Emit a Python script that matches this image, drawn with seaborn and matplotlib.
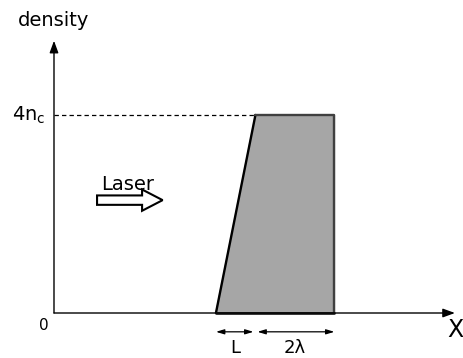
import matplotlib
matplotlib.use("Agg")
import matplotlib.pyplot as plt
import seaborn as sns
import pandas as pd
from matplotlib.patches import FancyArrow

sns.set_theme(style="white")
plt.rcParams['font.family'] = ['DejaVu Sans']
plt.rcParams['text.color'] = 'black'

# data (units: lambda = 1, density in n_c)
ramp_start = 4.1
ramp_len = 1.0          # L
plateau_len = 2.0       # 2 lambda
peak_density = 4.0      # 4 n_c
profile_x = [ramp_start, ramp_start + ramp_len, ramp_start + ramp_len + plateau_len,
             ramp_start + ramp_len + plateau_len]
profile_y = [0.0, peak_density, peak_density, 0.0]

fig = plt.figure(figsize=(4.64, 3.58), dpi=100)
ax = fig.add_axes([0, 0, 1, 1])
ax.set_xlim(-1.367, 10.38)
ax.set_ylim(-0.909, 6.323)
ax.axis('off')

df = pd.DataFrame({"x": profile_x, "y": profile_y, "seg": range(4)})
ax.fill(df["x"], df["y"], color="#a6a6a6", zorder=1)
# left slanted edge
sns.lineplot(data=df.iloc[0:2], x="x", y="y", ax=ax, color="black", lw=1.7,
             sort=False, estimator=None, zorder=3)
# top and right edges
sns.lineplot(data=df.iloc[1:4], x="x", y="y", ax=ax, color="#404040", lw=1.7,
             sort=False, estimator=None, zorder=3)
ax.plot([ramp_start, profile_x[-1]], [0, 0], color="#222222", lw=2.0, zorder=3)

# axes arrows
ax.annotate("", xy=(10.15, 0), xytext=(0, 0),
            arrowprops=dict(arrowstyle="-|>,head_length=0.6,head_width=0.22",
                            color="black", lw=1.0, shrinkA=0, shrinkB=0))
ax.annotate("", xy=(0, 5.5), xytext=(0, 0),
            arrowprops=dict(arrowstyle="-|>,head_length=0.6,head_width=0.22",
                            color="black", lw=1.0, shrinkA=0, shrinkB=0))

# dashed level line
ax.plot([0, ramp_start + ramp_len], [peak_density, peak_density], color="black",
        lw=0.9, ls=(0, (3.5, 2.5)), zorder=2)

# labels
ax.text(0.0, 5.9, "density", ha="center", va="center", fontsize=14)
ax.text(-0.22, peak_density, "4n$_\\mathregular{c}$", ha="right", va="center", fontsize=14)
ax.text(-0.25, -0.25, "0", ha="center", va="center", fontsize=11)
ax.text(10.15, -0.35, "X", ha="center", va="center", fontsize=17)
ax.text(1.2, 2.6, "Laser", ha="left", va="center", fontsize=14)

# hollow laser arrow
ax.add_patch(FancyArrow(1.09, 2.28, 1.66, 0, width=0.19, head_width=0.43,
                        head_length=0.52, length_includes_head=True,
                        fc="white", ec="black", lw=1.5, zorder=4))

# dimension arrows
dim_y = -0.38
ax.annotate("", xy=(ramp_start, dim_y), xytext=(ramp_start + ramp_len - 0.05, dim_y),
            arrowprops=dict(arrowstyle="<|-|>,head_length=0.4,head_width=0.12",
                            color="black", lw=0.9, shrinkA=0, shrinkB=0))
ax.annotate("", xy=(ramp_start + ramp_len + 0.05, dim_y), xytext=(profile_x[-1], dim_y),
            arrowprops=dict(arrowstyle="<|-|>,head_length=0.4,head_width=0.12",
                            color="black", lw=0.9, shrinkA=0, shrinkB=0))
ax.text(ramp_start + ramp_len / 2, -0.7, "L", ha="center", va="center", fontsize=13)
ax.text(ramp_start + ramp_len + plateau_len / 2, -0.7, "2λ", ha="center", va="center",
        fontsize=13)

fig.savefig("out.png", dpi=100)
